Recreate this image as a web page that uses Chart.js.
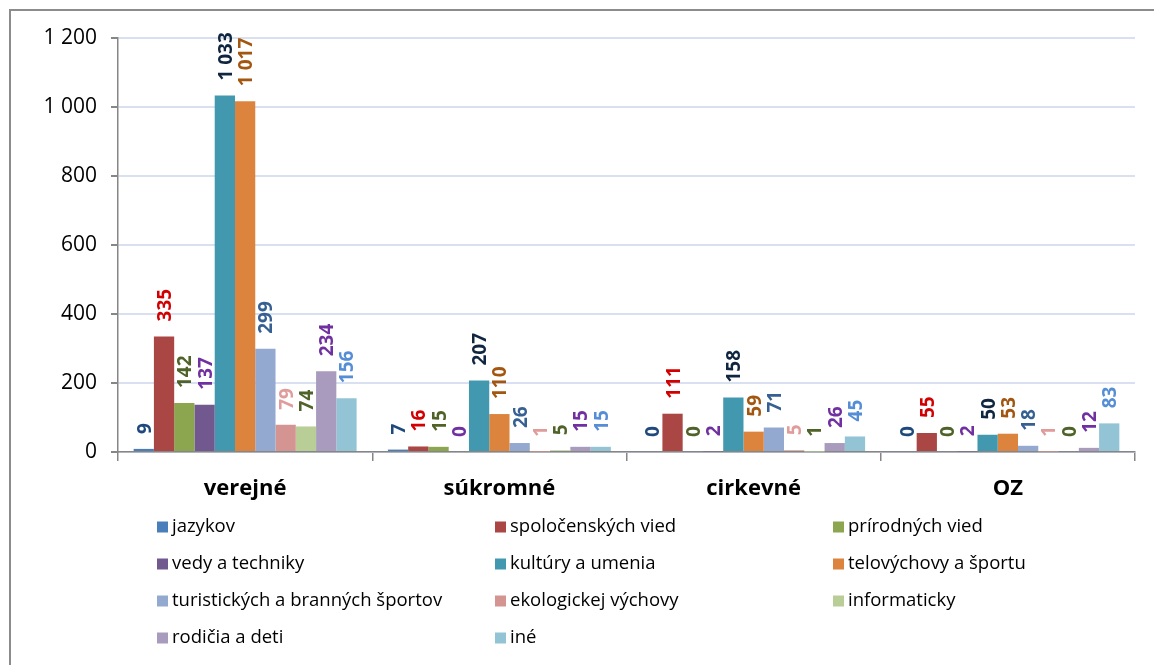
<!DOCTYPE html>
<html lang="sk">
<head>
<meta charset="UTF-8">
<title>Záujmové útvary podľa zriaďovateľa</title>
<script src="https://cdn.jsdelivr.net/npm/chart.js"></script>
<style>
  body { margin: 0; background: #fff; }
  canvas { display: block; }
</style>
</head>
<body>
<canvas id="chart" width="1154" height="665"></canvas>
<script>
// kategórie (zriaďovateľ)
const categories = ['verejné', 'súkromné', 'cirkevné', 'OZ'];

// série - zameranie útvarov
const seriesNames = [
    'jazykov', 'spoločenských vied', 'prírodných vied',
    'vedy a techniky', 'kultúry a umenia', 'telovýchovy a športu',
    'turistických a branných športov', 'ekologickej výchovy', 'informaticky',
    'rodičia a deti', 'iné'
];

// hodnoty: jedna séria = [verejné, súkromné, cirkevné, OZ]
const jazykov       = [9, 7, 0, 0];
const spolocenskych = [335, 16, 111, 55];
const prirodnych    = [142, 15, 0, 0];
const vedyTechniky  = [137, 0, 2, 2];
const kultury       = [1033, 207, 158, 50];
const telovychovy   = [1017, 110, 59, 53];
const turistickych  = [299, 26, 71, 18];
const ekologickej   = [79, 1, 5, 1];
const informaticky  = [74, 5, 1, 0];
const rodicia       = [234, 15, 26, 12];
const ine           = [156, 15, 45, 83];

const yTicks = [0, 200, 400, 600, 800, 1000, 1200];

const seriesValues = [jazykov, spolocenskych, prirodnych, vedyTechniky, kultury,
    telovychovy, turistickych, ekologickej, informaticky, rodicia, ine];

const barColors = ['#4A7EBB', '#AA4643', '#8BA64F', '#71588F', '#4298AF', '#DC843D',
    '#94A9CF', '#D49592', '#B9CD96', '#A99BBD', '#93C4D6'];
const labelColors = ['#1F497D', '#D20000', '#4F6228', '#7030A0', '#10253F', '#A2560F',
    '#366092', '#E09C9A', '#4F6228', '#7030A0', '#558ED5'];

const FONT = '"Open Sans", sans-serif';
const GRAY = '#868686';

function fmt(v) {
    return String(v).replace(/\B(?=(\d{3})+(?!\d))/g, ' ');
}

// popisky hodnôt nad stĺpcami (otočené o 90°)
const valueLabels = {
    id: 'valueLabels',
    afterDatasetsDraw(chart) {
        const ctx = chart.ctx;
        chart.data.datasets.forEach((ds, i) => {
            const meta = chart.getDatasetMeta(i);
            meta.data.forEach((bar, j) => {
                ctx.save();
                ctx.translate(bar.x, bar.y - 15);
                ctx.rotate(-Math.PI / 2);
                ctx.font = 'bold 19px ' + FONT;
                ctx.fillStyle = labelColors[i];
                ctx.textAlign = 'left';
                ctx.textBaseline = 'alphabetic';
                ctx.fillText(fmt(ds.data[j]), 0, 7);
                ctx.restore();
            });
        });
    }
};

// legenda v mriežke 3 stĺpcov + rámik grafu
const gridLegend = {
    id: 'gridLegend',
    afterDraw(chart) {
        const ctx = chart.ctx;
        ctx.save();
        ctx.strokeStyle = '#8C8C8C';
        ctx.lineWidth = 2;
        ctx.beginPath();
        ctx.moveTo(10, chart.height);
        ctx.lineTo(10, 10);
        ctx.lineTo(chart.width, 10);
        ctx.stroke();

        ctx.font = '18.5px ' + FONT;
        ctx.textAlign = 'left';
        ctx.textBaseline = 'middle';
        chart.data.datasets.forEach((ds, i) => {
            const x = 157 + (i % 3) * 338;
            const y = 527 + Math.floor(i / 3) * 37;
            ctx.fillStyle = ds.backgroundColor;
            ctx.fillRect(x, y - 5.5, 11, 11);
            ctx.fillStyle = '#000';
            ctx.fillText(ds.label, x + 15, y);
        });
        ctx.restore();
    }
};

new Chart(document.getElementById('chart'), {
    type: 'bar',
    data: {
        labels: categories,
        datasets: seriesNames.map((name, i) => ({
            label: name,
            data: seriesValues[i],
            backgroundColor: barColors[i],
            borderWidth: 0,
            categoryPercentage: 0.877,
            barPercentage: 1.0
        }))
    },
    options: {
        responsive: false,
        animation: false,
        layout: { padding: { left: 10, top: 38, right: 19, bottom: 153 } },
        plugins: {
            legend: { display: false },
            tooltip: { enabled: false }
        },
        scales: {
            x: {
                afterFit(s) { s.height = 60; },
                grid: {
                    offset: true,
                    drawOnChartArea: false,
                    tickLength: 9,
                    tickColor: GRAY,
                    lineWidth: 1.5
                },
                border: { color: GRAY, width: 1.5 },
                ticks: {
                    color: '#000',
                    padding: 15,
                    font: { family: FONT, size: 22, weight: 'bold' }
                }
            },
            y: {
                min: 0,
                max: 1200,
                afterFit(s) { s.width = 108; },
                afterBuildTicks(s) { s.ticks = yTicks.map(v => ({ value: v })); },
                grid: {
                    color: '#D8E0F1',
                    lineWidth: 2,
                    tickLength: 7,
                    tickColor: GRAY
                },
                border: { color: GRAY, width: 1.5 },
                ticks: {
                    color: '#000',
                    padding: 14,
                    font: { family: FONT, size: 21 },
                    callback: v => fmt(v)
                }
            }
        }
    },
    plugins: [valueLabels, gridLegend]
});
</script>
</body>
</html>
